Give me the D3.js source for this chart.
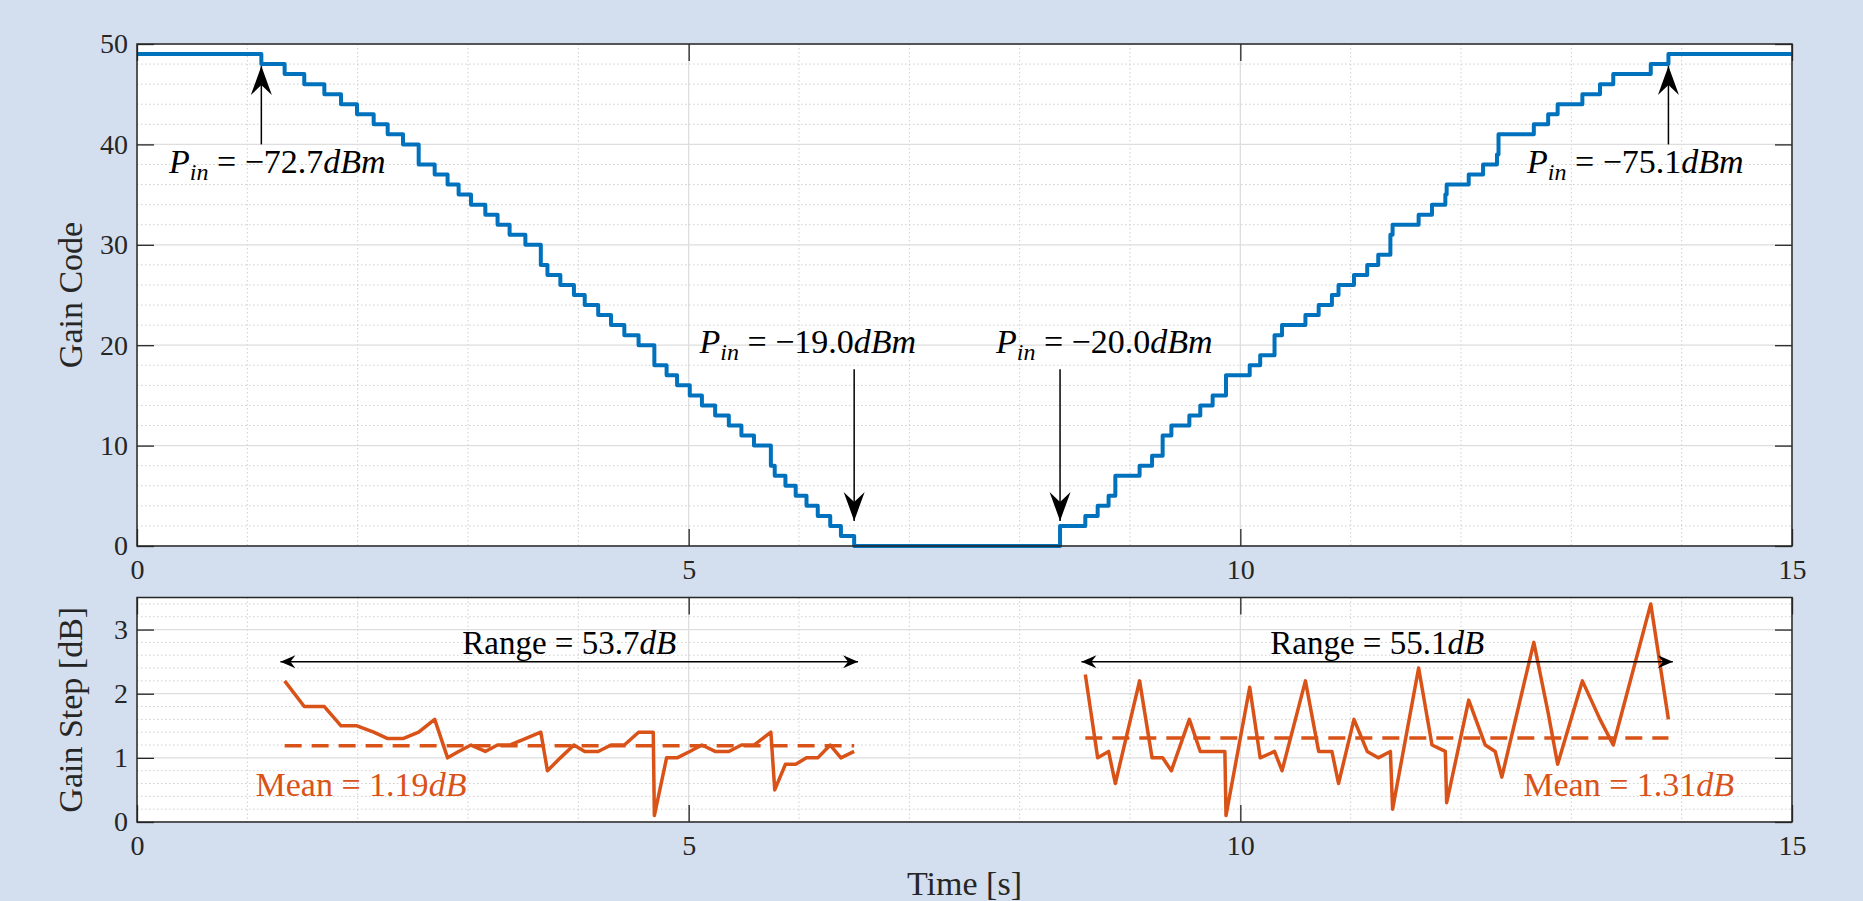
<!DOCTYPE html>
<html>
<head>
<meta charset="utf-8">
<script src="https://cdn.jsdelivr.net/npm/d3@7"></script>
<style>
  body { margin: 0; background: #d3dfee; }
  svg { display: block; }
  text { font-family: "Liberation Serif", "DejaVu Serif", serif; fill: #262626; }
</style>
</head>
<body>
<svg id="chart" width="1863" height="901"></svg>
<script>
// gain code staircase: time of each code change and the code held from then on
var codeTimes = [0, 1.127, 1.338, 1.516, 1.698, 1.849, 1.994, 2.145, 2.272, 2.411, 2.553, 2.698, 2.815, 2.915, 3.027,
  3.157, 3.268, 3.377, 3.52, 3.66, 3.72, 3.837, 3.96, 4.058, 4.18, 4.296, 4.417, 4.546, 4.689, 4.80, 4.895, 5.01,
  5.12, 5.24, 5.364, 5.478, 5.592, 5.745, 5.78, 5.877, 5.97, 6.068, 6.17, 6.283, 6.38, 6.50,
  8.366, 8.595, 8.707, 8.806, 8.867, 9.087, 9.20, 9.296, 9.375, 9.538, 9.637, 9.749, 9.87, 10.085, 10.18, 10.31,
  10.378, 10.59, 10.71, 10.83, 10.89, 11.03, 11.15, 11.25, 11.36, 11.38, 11.616, 11.737, 11.858, 11.87, 12.07,
  12.20, 12.326, 12.34, 12.66, 12.79, 12.876, 13.10, 13.26, 13.38, 13.72, 13.88, 15];
var codeValues = [49, 48, 47, 46, 45, 44, 43, 42, 41, 40, 38, 37, 36, 35, 34,
  33, 32, 31, 30, 28, 27, 26, 25, 24, 23, 22, 21, 20, 18, 17, 16, 15,
  14, 13, 12, 11, 10, 8, 7, 6, 5, 4, 3, 2, 1, 0,
  2, 3, 4, 5, 7, 8, 9, 11, 12, 13, 14, 15, 17, 18, 19, 21,
  22, 23, 24, 25, 26, 27, 28, 29, 31, 32, 33, 34, 35, 36, 37,
  38, 39, 41, 42, 43, 44, 45, 46, 47, 48, 49, 49];

// gain step at each code change (dB), falling and rising sweep
var stepDownTimes = [1.338, 1.516, 1.698, 1.849, 1.994, 2.145, 2.272, 2.411, 2.553, 2.698, 2.815, 2.915, 3.027, 3.157,
  3.268, 3.377, 3.52, 3.66, 3.72, 3.837, 3.96, 4.058, 4.18, 4.296, 4.417, 4.546, 4.679, 4.689, 4.80, 4.895, 5.01,
  5.12, 5.24, 5.364, 5.478, 5.592, 5.745, 5.78, 5.877, 5.97, 6.068, 6.17, 6.283, 6.38, 6.50];
var stepDownValues = [2.2, 1.8, 1.8, 1.5, 1.5, 1.4, 1.3, 1.3, 1.4, 1.6, 1.0, 1.1, 1.2, 1.1,
  1.2, 1.2, 1.3, 1.4, 0.8, 1.0, 1.2, 1.1, 1.1, 1.2, 1.2, 1.4, 1.4, 0.1, 1.0, 1.0, 1.1,
  1.2, 1.1, 1.1, 1.2, 1.2, 1.4, 0.5, 0.9, 0.9, 1.0, 1.0, 1.2, 1.0, 1.1];
var stepUpTimes = [8.595, 8.707, 8.806, 8.867, 9.087, 9.20, 9.296, 9.375, 9.538, 9.637, 9.749, 9.86, 9.87, 10.085,
  10.18, 10.31, 10.378, 10.59, 10.71, 10.83, 10.89, 11.03, 11.15, 11.25, 11.36, 11.38, 11.616, 11.737, 11.858, 11.87,
  12.07, 12.22, 12.31, 12.37, 12.66, 12.79, 12.876, 13.10, 13.26, 13.38, 13.72, 13.88];
var stepUpValues = [2.3, 1.0, 1.1, 0.6, 2.2, 1.0, 1.0, 0.8, 1.6, 1.1, 1.1, 1.1, 0.1, 2.1,
  1.0, 1.1, 0.8, 2.2, 1.1, 1.1, 0.6, 1.6, 1.1, 1.0, 1.1, 0.2, 2.4, 1.2, 1.1, 0.3,
  1.9, 1.2, 1.1, 0.7, 2.8, 1.7, 0.9, 2.2, 1.6, 1.2, 3.4, 1.6];

var meanDown = 1.19, meanUp = 1.31;

// annotations (data coordinates)
var pinLabels = [
  { t: 1.127, from: 40, to: 47.8, value: "\u221272.7", lt: 1.272, lv: 37.2 },
  { t: 13.88, from: 40, to: 47.8, value: "\u221275.1", lt: 13.58, lv: 37.2 },
  { t: 6.50, from: 17.6, to: 2.5, value: "\u221219.0", lt: 6.08, lv: 19.2 },
  { t: 8.366, from: 17.6, to: 2.5, value: "\u221220.0", lt: 8.767, lv: 19.2 }
];
var ranges = [
  { t0: 1.30, t1: 6.535, y: 2.5, value: "53.7" },
  { t0: 8.56, t1: 13.92, y: 2.5, value: "55.1" }
];
var meanLabels = [
  { t: 2.03, v: 0.4, value: meanDown },
  { t: 13.52, v: 0.4, value: meanUp }
];

var xTicks = [0, 5, 10, 15];
var codeTicks = [0, 10, 20, 30, 40, 50];
var stepTicks = [0, 1, 2, 3];

var blue = "#0072bd", orange = "#d95319", axisColor = "#262626";

var svg = d3.select("#chart");
var left = 137, right = 1792;
var top1 = 44, bottom1 = 546;
var top2 = 597.5, bottom2 = 822;

var x = d3.scaleLinear().domain([0, 15]).range([left, right]);
var y1 = d3.scaleLinear().domain([0, 50]).range([bottom1, top1]);
var y2 = d3.scaleLinear().domain([0, 3.5]).range([bottom2, top2]);

function drawFrame(y, top, bottom, yTicks, yMinorStep) {
  var g = svg.append("g");
  g.append("rect").attr("x", left).attr("y", top).attr("width", right - left).attr("height", bottom - top).attr("fill", "#fff");

  var xMinor = d3.range(1, 15).filter(function (d) { return d % 5 !== 0; });
  var yDom = y.domain();
  var yMinor = d3.range(yDom[0] + yMinorStep, yDom[1] + 1e-9, yMinorStep)
    .filter(function (d) { return yTicks.every(function (t) { return Math.abs(t - d) > 1e-6; }); });
  g.selectAll(".xminor").data(xMinor).enter().append("line")
    .attr("x1", function (d) { return x(d); }).attr("x2", function (d) { return x(d); })
    .attr("y1", top).attr("y2", bottom)
    .attr("stroke", "#cfcfcf").attr("stroke-width", 1).attr("stroke-dasharray", "1.5,2.5");
  g.selectAll(".yminor").data(yMinor).enter().append("line")
    .attr("x1", left).attr("x2", right)
    .attr("y1", function (d) { return y(d); }).attr("y2", function (d) { return y(d); })
    .attr("stroke", "#cfcfcf").attr("stroke-width", 1).attr("stroke-dasharray", "1.5,2.5");

  g.selectAll(".xmajor").data(xTicks).enter().append("line")
    .attr("x1", function (d) { return x(d); }).attr("x2", function (d) { return x(d); })
    .attr("y1", top).attr("y2", bottom)
    .attr("stroke", "#dedede").attr("stroke-width", 1.3);
  g.selectAll(".ymajor").data(yTicks).enter().append("line")
    .attr("x1", left).attr("x2", right)
    .attr("y1", function (d) { return y(d); }).attr("y2", function (d) { return y(d); })
    .attr("stroke", "#dedede").attr("stroke-width", 1.3);
  return g;
}

function drawAxes(y, top, bottom, yTicks, yLabel) {
  var tl = 17;
  var g = svg.append("g");
  g.append("g").attr("transform", "translate(0," + bottom + ")")
    .call(d3.axisBottom(x).tickValues(xTicks).tickSizeInner(-tl).tickSizeOuter(0).tickPadding(13).tickFormat(d3.format("d")));
  g.append("g").attr("transform", "translate(0," + top + ")")
    .call(d3.axisTop(x).tickValues(xTicks).tickSizeInner(-tl).tickSizeOuter(0).tickFormat(""));
  g.append("g").attr("transform", "translate(" + left + ",0)")
    .call(d3.axisLeft(y).tickValues(yTicks).tickSizeInner(-tl).tickSizeOuter(0).tickPadding(9).tickFormat(d3.format("d")));
  g.append("g").attr("transform", "translate(" + right + ",0)")
    .call(d3.axisRight(y).tickValues(yTicks).tickSizeInner(-tl).tickSizeOuter(0).tickFormat(""));
  g.selectAll(".domain").remove();
  g.selectAll(".tick line").attr("stroke", axisColor).attr("stroke-width", 1.3);
  g.selectAll(".tick text").attr("font-size", 28).attr("fill", axisColor).style("font-family", null);
  g.append("rect").attr("x", left).attr("y", top).attr("width", right - left).attr("height", bottom - top)
    .attr("fill", "none").attr("stroke", axisColor).attr("stroke-width", 1.5);
  g.append("text").attr("transform", "translate(71," + ((top + bottom) / 2) + ") rotate(-90)")
    .attr("text-anchor", "middle").attr("dy", "0.33em").attr("font-size", 34).text(yLabel);
  return g;
}

// arrow heads
var defs = svg.append("defs");
defs.append("marker").attr("id", "headBig").attr("viewBox", "-30 -12 31 24").attr("refX", 0).attr("refY", 0)
  .attr("markerWidth", 31).attr("markerHeight", 24).attr("markerUnits", "userSpaceOnUse").attr("orient", "auto")
  .append("path").attr("d", "M0,0 L-29,-10.5 L-19,0 L-29,10.5 Z").attr("fill", "#000");
defs.append("marker").attr("id", "head").attr("viewBox", "-16 -8 17 16").attr("refX", 0).attr("refY", 0)
  .attr("markerWidth", 17).attr("markerHeight", 16).attr("markerUnits", "userSpaceOnUse").attr("orient", "auto-start-reverse")
  .append("path").attr("d", "M0,0 L-15,-6.5 L-10,0 L-15,6.5 Z").attr("fill", "#000");

function mathText(sel, parts) {
  parts.forEach(function (p) {
    var ts = sel.append("tspan").text(p.s);
    if (p.it) ts.attr("font-style", "italic");
    if (p.sub) ts.attr("font-size", 24).attr("dy", 7);
    if (p.up) ts.attr("dy", -7);
  });
}

// ---- top panel
drawFrame(y1, top1, bottom1, codeTicks, 2);
var codeData = codeTimes.map(function (t, i) { return { t: t, v: codeValues[i] }; });
svg.append("path").datum(codeData)
  .attr("fill", "none").attr("stroke", blue).attr("stroke-width", 4).attr("stroke-linejoin", "round")
  .attr("d", d3.line().curve(d3.curveStepAfter).x(function (d) { return x(d.t); }).y(function (d) { return y1(d.v); }));

pinLabels.forEach(function (p) {
  svg.append("line")
    .attr("x1", x(p.t)).attr("x2", x(p.t))
    .attr("y1", y1(p.from)).attr("y2", y1(p.to))
    .attr("stroke", "#000").attr("stroke-width", 1.5).attr("marker-end", "url(#headBig)");
  var tx = svg.append("text").attr("font-size", 34).style("fill", "#000").attr("text-anchor", "middle")
    .attr("x", x(p.lt)).attr("y", y1(p.lv));
  mathText(tx, [{ s: "P", it: true }, { s: "in", it: true, sub: true }, { s: " = " + p.value, up: true }, { s: "dBm", it: true }]);
});

drawAxes(y1, top1, bottom1, codeTicks, "Gain Code");

// ---- bottom panel
drawFrame(y2, top2, bottom2, stepTicks, 0.2);
var stepLine = d3.line().x(function (d) { return x(d.t); }).y(function (d) { return y2(d.v); });
[[stepDownTimes, stepDownValues, meanDown], [stepUpTimes, stepUpValues, meanUp]].forEach(function (s) {
  var pts = s[0].map(function (t, i) { return { t: t, v: s[1][i] }; });
  svg.append("path").datum(pts).attr("fill", "none").attr("stroke", orange).attr("stroke-width", 3.5)
    .attr("stroke-linejoin", "round").attr("d", stepLine);
  var ext = d3.extent(s[0]);
  svg.append("line").attr("x1", x(ext[0])).attr("x2", x(ext[1]))
    .attr("y1", y2(s[2])).attr("y2", y2(s[2]))
    .attr("stroke", orange).attr("stroke-width", 3.5).attr("stroke-dasharray", "17,10");
});

ranges.forEach(function (r) {
  svg.append("line").attr("x1", x(r.t0)).attr("x2", x(r.t1)).attr("y1", y2(r.y)).attr("y2", y2(r.y))
    .attr("stroke", "#000").attr("stroke-width", 1.5)
    .attr("marker-start", "url(#head)").attr("marker-end", "url(#head)");
  var tx = svg.append("text").attr("font-size", 33).style("fill", "#000").attr("text-anchor", "middle")
    .attr("x", (x(r.t0) + x(r.t1)) / 2).attr("y", y2(r.y) - 8);
  mathText(tx, [{ s: "Range = " + r.value }, { s: "dB", it: true }]);
});

meanLabels.forEach(function (m) {
  var tx = svg.append("text").attr("font-size", 34).style("fill", orange).attr("text-anchor", "middle")
    .attr("x", x(m.t)).attr("y", y2(m.v));
  mathText(tx, [{ s: "Mean = " + m.value.toFixed(2) }, { s: "dB", it: true }]);
});

drawAxes(y2, top2, bottom2, stepTicks, "Gain Step [dB]");

svg.append("text").attr("x", (left + right) / 2).attr("y", 895).attr("text-anchor", "middle")
  .attr("font-size", 34).text("Time [s]");
</script>
</body>
</html>
